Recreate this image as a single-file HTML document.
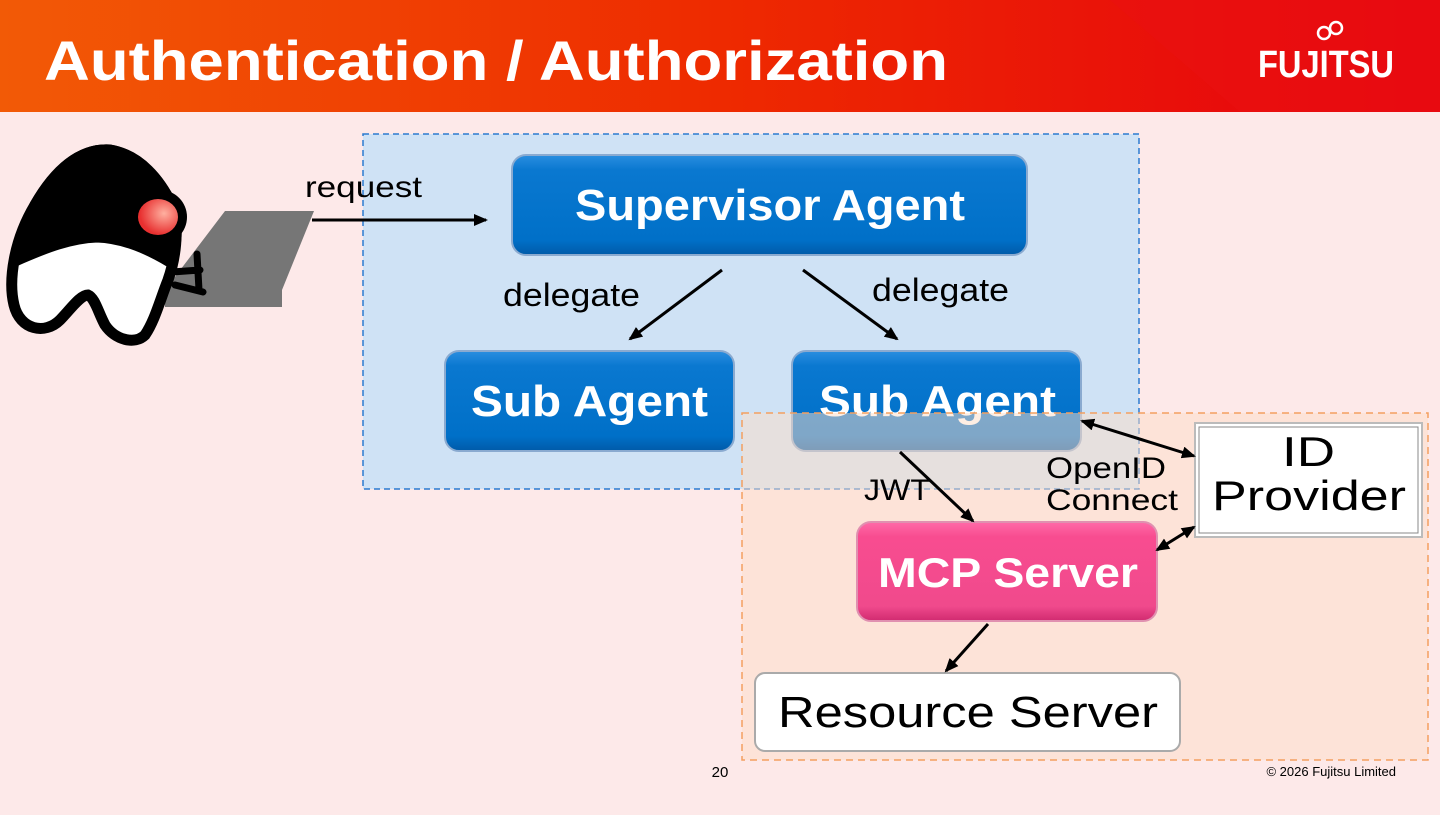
<!DOCTYPE html>
<html><head><meta charset="utf-8"><style>
body{margin:0;width:1440px;height:810px;overflow:hidden;background:#fde9e9;font-family:"Liberation Sans","DejaVu Sans",sans-serif}
</style></head><body>
<svg width="1440" height="810" viewBox="0 0 1440 810" xmlns="http://www.w3.org/2000/svg">
<defs>
<linearGradient id="hd" x1="0" x2="1" y1="0" y2="0"><stop offset="0" stop-color="#f25a06"/><stop offset="0.5" stop-color="#ee2a00"/><stop offset="1" stop-color="#e60010"/></linearGradient>
<linearGradient id="bl" x1="0" x2="0" y1="0" y2="1"><stop offset="0" stop-color="#2a8ee0"/><stop offset="0.15" stop-color="#0a78d0"/><stop offset="0.85" stop-color="#0070c8"/><stop offset="1" stop-color="#005aa8"/></linearGradient>
<linearGradient id="pk" x1="0" x2="0" y1="0" y2="1"><stop offset="0" stop-color="#ff6aa8"/><stop offset="0.15" stop-color="#f84c90"/><stop offset="0.85" stop-color="#f04a8c"/><stop offset="1" stop-color="#d02a70"/></linearGradient>
<radialGradient id="eye" cx="0.65" cy="0.4" r="0.6"><stop offset="0" stop-color="#ffb0a0"/><stop offset="1" stop-color="#e83030"/></radialGradient>
<marker id="ar" markerWidth="14" markerHeight="12" refX="12" refY="6" orient="auto" markerUnits="userSpaceOnUse"><path d="M0,0 L14,6 L0,12 z" fill="#000"/></marker>
<marker id="as" markerWidth="14" markerHeight="12" refX="2" refY="6" orient="auto" markerUnits="userSpaceOnUse"><path d="M14,0 L0,6 L14,12 z" fill="#000"/></marker>
</defs>
<rect x="0" y="0" width="1440" height="112" fill="url(#hd)"/>
<polygon points="1110,0 1440,0 1440,112 1240,112" fill="#ea1010" opacity="0.6"/>
<text x="44" y="80" font-size="56" font-weight="bold" fill="#fff" textLength="904" lengthAdjust="spacingAndGlyphs">Authentication / Authorization</text>
<text x="1258" y="77" font-size="38" font-weight="bold" fill="#fff" textLength="136" lengthAdjust="spacingAndGlyphs">FUJITSU</text>
<circle cx="1324" cy="33" r="6" fill="none" stroke="#fff" stroke-width="2.5"/><circle cx="1336" cy="28" r="6" fill="none" stroke="#fff" stroke-width="2.5"/>

<rect x="363" y="134" width="776" height="355" fill="#cfe2f5" stroke="#2c7bd0" stroke-width="1.5" stroke-dasharray="6,4"/>

<!-- duke -->
<polygon points="225,211 314,211 282,290 282,307 165,307 165,290" fill="#767676"/>
<path d="M110,150 C140,155 160,180 172,205 C180,230 175,260 168,280 C160,300 155,320 145,335 C135,345 115,340 105,325 C98,312 95,298 88,295 C80,295 70,310 60,320 C45,335 20,330 14,305 C8,280 14,240 35,205 C55,170 80,148 110,150 Z" fill="#fff" stroke="#000" stroke-width="11"/>
<path d="M110,150 C140,155 160,180 172,205 C180,230 175,250 170,262 C150,250 125,238 97,237 C70,238 45,248 22,258 C24,240 28,222 35,205 C55,170 80,148 110,150 Z" fill="#000" stroke="#000" stroke-width="11"/>
<circle cx="160" cy="217" r="27" fill="#000"/>
<ellipse cx="158" cy="217" rx="20" ry="18" fill="url(#eye)"/>
<path d="M172,272 L200,270 M175,285 L203,292 M197,254 L199,290" stroke="#000" stroke-width="7" stroke-linecap="round"/>

<text x="305" y="197" font-size="30" fill="#000" textLength="117" lengthAdjust="spacingAndGlyphs">request</text>
<line x1="312" y1="220" x2="486" y2="220" stroke="#000" stroke-width="3" marker-end="url(#ar)"/>

<g font-weight="bold" fill="#fff">
<rect x="512" y="155" width="515" height="100" rx="14" fill="url(#bl)" stroke="#8aaad0" stroke-width="2"/>
<text x="575" y="220" font-size="44" textLength="390" lengthAdjust="spacingAndGlyphs">Supervisor Agent</text>
<rect x="445" y="351" width="289" height="100" rx="14" fill="url(#bl)" stroke="#8aaad0" stroke-width="2"/>
<text x="471" y="416" font-size="44" textLength="237" lengthAdjust="spacingAndGlyphs">Sub Agent</text>
<rect x="792" y="351" width="289" height="100" rx="14" fill="url(#bl)" stroke="#8aaad0" stroke-width="2"/>
<text x="819" y="416" font-size="44" textLength="237" lengthAdjust="spacingAndGlyphs">Sub Agent</text>
</g>
<text x="503" y="306" font-size="32" textLength="137" lengthAdjust="spacingAndGlyphs">delegate</text>
<text x="872" y="301" font-size="32" textLength="137" lengthAdjust="spacingAndGlyphs">delegate</text>
<line x1="722" y1="270" x2="630" y2="339" stroke="#000" stroke-width="3" marker-end="url(#ar)"/>
<line x1="803" y1="270" x2="897" y2="339" stroke="#000" stroke-width="3" marker-end="url(#ar)"/>

<rect x="742" y="413" width="686" height="347" fill="rgba(253,221,199,0.5)" stroke="#f4a060" stroke-width="1.5" stroke-dasharray="7,5"/>

<rect x="1195" y="423" width="227" height="114" fill="#fff" stroke="#bbb" stroke-width="2"/>
<rect x="1199" y="427" width="219" height="106" fill="none" stroke="#888" stroke-width="1"/>
<text x="1282" y="466" font-size="42" textLength="53" lengthAdjust="spacingAndGlyphs">ID</text>
<text x="1212" y="510" font-size="42" textLength="194" lengthAdjust="spacingAndGlyphs">Provider</text>

<rect x="857" y="522" width="300" height="99" rx="14" fill="url(#pk)" stroke="#e090b0" stroke-width="2"/>
<text x="878" y="587" font-size="42" font-weight="bold" fill="#fff" textLength="260" lengthAdjust="spacingAndGlyphs">MCP Server</text>

<rect x="755" y="673" width="425" height="78" rx="10" fill="#fff" stroke="#aaa" stroke-width="2"/>
<text x="778" y="727" font-size="44" textLength="380" lengthAdjust="spacingAndGlyphs">Resource Server</text>

<text x="864" y="500" font-size="30" textLength="66" lengthAdjust="spacingAndGlyphs">JWT</text>
<text x="1046" y="478" font-size="30" textLength="120" lengthAdjust="spacingAndGlyphs">OpenID</text>
<text x="1046" y="510" font-size="30" textLength="132" lengthAdjust="spacingAndGlyphs">Connect</text>
<line x1="900" y1="452" x2="973" y2="521" stroke="#000" stroke-width="3" marker-end="url(#ar)"/>
<line x1="1082" y1="421" x2="1194" y2="456" stroke="#000" stroke-width="3" marker-start="url(#as)" marker-end="url(#ar)"/>
<line x1="1157" y1="550" x2="1194" y2="527" stroke="#000" stroke-width="3" marker-start="url(#as)" marker-end="url(#ar)"/>
<line x1="988" y1="624" x2="946" y2="671" stroke="#000" stroke-width="3" marker-end="url(#ar)"/>

<text x="720" y="777" font-size="15" text-anchor="middle">20</text>
<text x="1396" y="776" font-size="13" text-anchor="end">© 2026 Fujitsu Limited</text>
</svg>
</body></html>
